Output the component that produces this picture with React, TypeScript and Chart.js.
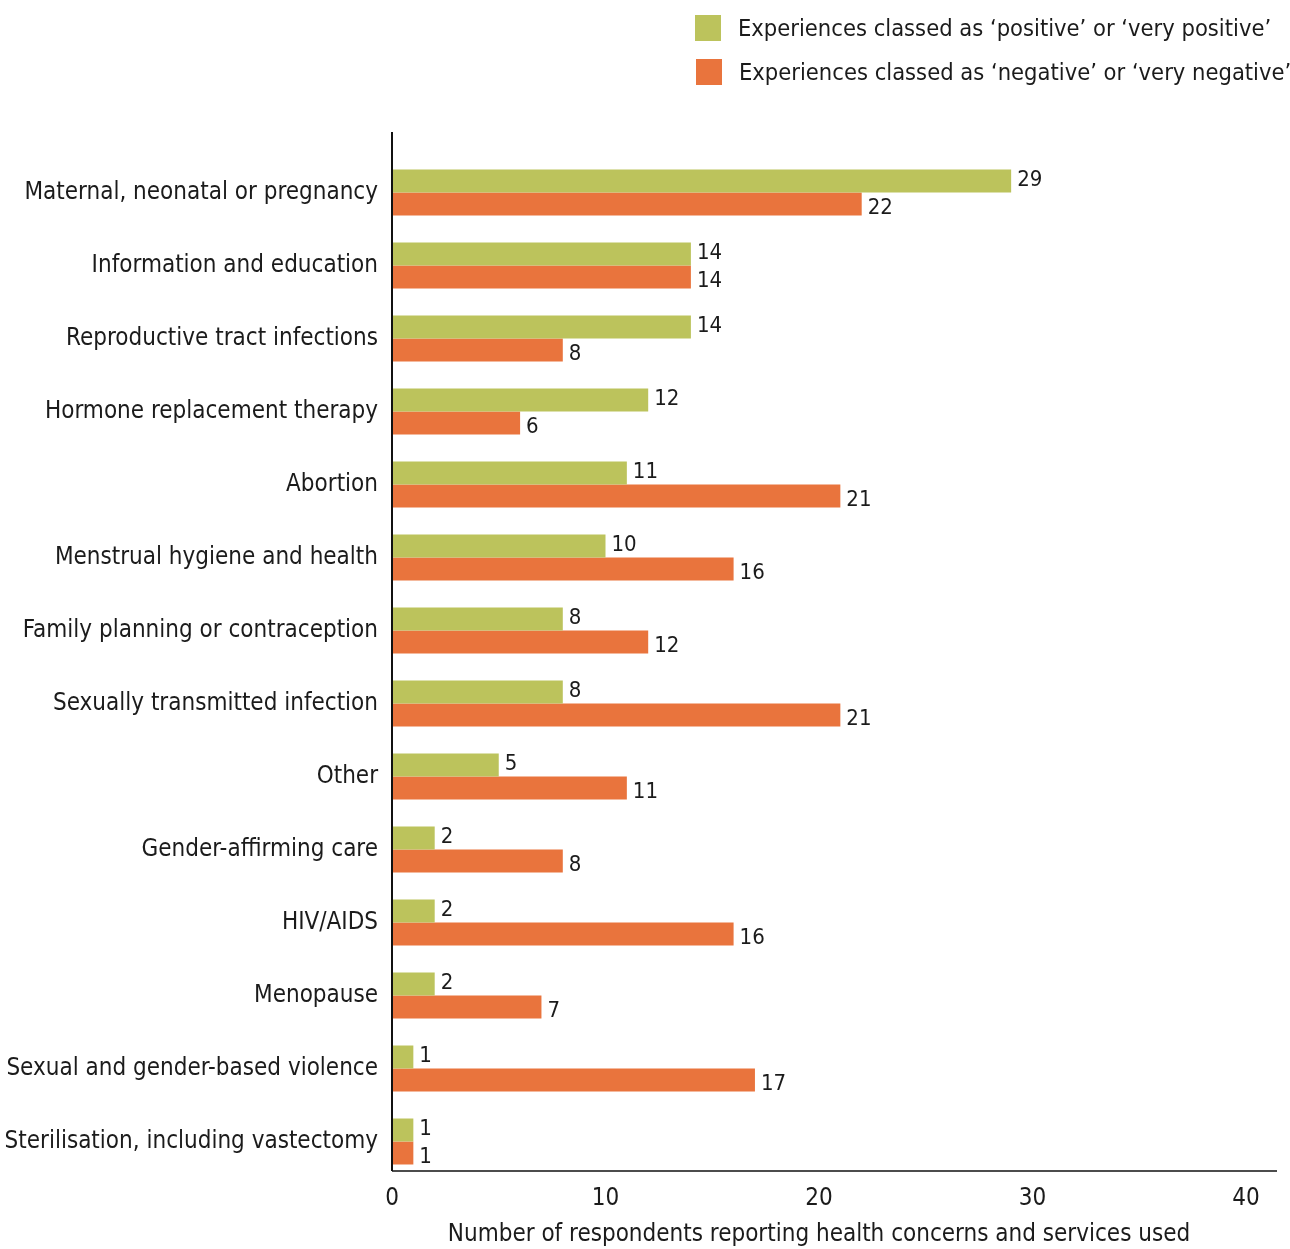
import React, { useEffect, useRef } from "react";
import { Chart, registerables } from "chart.js";

Chart.register(...registerables);

const categories = [
  "Maternal, neonatal or pregnancy",
  "Information and education",
  "Reproductive tract infections",
  "Hormone replacement therapy",
  "Abortion",
  "Menstrual hygiene and health",
  "Family planning or contraception",
  "Sexually transmitted infection",
  "Other",
  "Gender-affirming care",
  "HIV/AIDS",
  "Menopause",
  "Sexual and gender-based violence",
  "Sterilisation, including vastectomy",
];
const positiveValues = [29, 14, 14, 12, 11, 10, 8, 8, 5, 2, 2, 2, 1, 1];
const negativeValues = [22, 14, 8, 6, 21, 16, 12, 21, 11, 8, 16, 7, 17, 1];
const seriesLabels = [
  "Experiences classed as \u2018positive\u2019 or \u2018very positive\u2019",
  "Experiences classed as \u2018negative\u2019 or \u2018very negative\u2019",
];
const xTicks = [0, 10, 20, 30, 40];
const axisTitle = "Number of respondents reporting health concerns and services used";

const GREEN = "#bcc35c";
const ORANGE = "#e9743d";
const TEXT = "#1b1b1b";
const FONT = "'Liberation Sans Narrow', 'DejaVu Sans Condensed', 'Roboto', sans-serif";

const valueLabelPlugin = {
  id: "valueLabels",
  afterDatasetsDraw(chart: any) {
    const ctx = chart.ctx;
    ctx.save();
    ctx.fillStyle = TEXT;
    ctx.font = `22px ${FONT}`;
    ctx.textAlign = "left";
    ctx.textBaseline = "middle";
    chart.data.datasets.forEach((ds: any, di: number) => {
      const meta = chart.getDatasetMeta(di);
      meta.data.forEach((el: any, i: number) => {
        const dy = di === 0 ? -1 : 4;
        ctx.fillText(String(ds.data[i]), el.x + 6, el.y + dy);
      });
    });
    ctx.restore();
  },
};

const axisLinePlugin = {
  id: "axisLines",
  afterDraw(chart: any) {
    const { ctx, chartArea } = chart;
    const x0 = chart.scales.x.getPixelForValue(0);
    ctx.save();
    ctx.strokeStyle = "#111";
    ctx.lineWidth = 2;
    ctx.beginPath();
    ctx.moveTo(x0, chartArea.top - 24);
    ctx.lineTo(x0, chartArea.bottom - 7);
    ctx.stroke();
    ctx.lineWidth = 1.5;
    ctx.beginPath();
    ctx.moveTo(x0, chartArea.bottom - 7);
    ctx.lineTo(chartArea.right + 31, chartArea.bottom - 7);
    ctx.stroke();
    ctx.restore();
  },
};

export default function App() {
  const ref = useRef<HTMLCanvasElement | null>(null);

  useEffect(() => {
    if (!ref.current) return;
    const chart = new Chart(ref.current, {
      type: "bar",
      data: {
        labels: categories,
        datasets: [
          {
            label: seriesLabels[0],
            data: positiveValues,
            backgroundColor: GREEN,
            categoryPercentage: 0.63,
            barPercentage: 1,
          },
          {
            label: seriesLabels[1],
            data: negativeValues,
            backgroundColor: ORANGE,
            categoryPercentage: 0.63,
            barPercentage: 1,
          },
        ],
      },
      options: {
        indexAxis: "y",
        responsive: false,
        animation: false,
        layout: { padding: { top: 156, right: 44, left: 0, bottom: 0 } },
        plugins: {
          legend: { display: false },
          tooltip: { enabled: false },
        },
        scales: {
          x: {
            min: 0,
            max: 40,
            afterBuildTicks: (scale: any) => {
              scale.ticks = xTicks.map((v) => ({ value: v }));
            },
            grid: { display: false, drawTicks: false },
            border: { display: false },
            ticks: {
              color: TEXT,
              font: { family: FONT, size: 24 },
              padding: 6,
            },
            title: {
              display: true,
              text: axisTitle,
              color: TEXT,
              font: { family: FONT, size: 24 },
              padding: { top: 4, bottom: 0 },
            },
            afterFit: (scale: any) => {
              scale.height = 71;
            },
          },
          y: {
            grid: { display: false, drawTicks: false },
            border: { display: false },
            ticks: {
              color: TEXT,
              font: { family: FONT, size: 24 },
              padding: 14,
              autoSkip: false,
            },
            afterFit: (scale: any) => {
              scale.width = 392;
            },
          },
        },
      },
      plugins: [valueLabelPlugin, axisLinePlugin],
    });
    return () => chart.destroy();
  }, []);

  const legendRow = (color: string, label: string, top: number, left: number) => (
    <div
      style={{
        position: "absolute",
        top,
        left,
        display: "flex",
        alignItems: "center",
        height: 26,
      }}
    >
      <div style={{ width: 26, height: 26, background: color, marginRight: 17 }} />
      <span style={{ fontFamily: FONT, fontSize: 23.5, color: TEXT, whiteSpace: "nowrap" }}>{label}</span>
    </div>
  );

  return (
    <div style={{ position: "absolute", left: 0, top: 0, width: 1290, height: 1249, background: "#fff" }}>
      <canvas ref={ref} width={1290} height={1249} style={{ display: "block" }} />
      {legendRow(GREEN, seriesLabels[0], 15, 695)}
      {legendRow(ORANGE, seriesLabels[1], 59, 696)}
    </div>
  );
}
